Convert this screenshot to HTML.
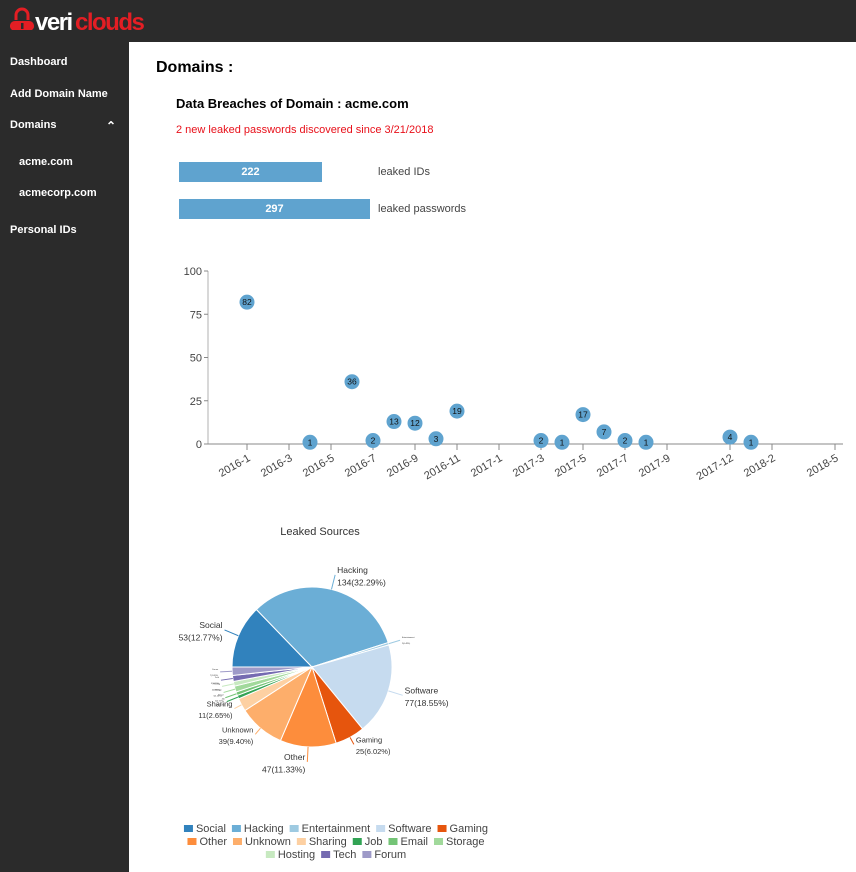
<!DOCTYPE html>
<html><head><meta charset="utf-8"><style>
body{margin:0;width:856px;height:872px;overflow:hidden;font-family:"Liberation Sans",sans-serif;background:#fff;position:relative}
#top{position:absolute;left:0;top:0;width:856px;height:42px;background:#2b2b2b}
#side{position:absolute;left:0;top:42px;width:129px;height:830px;background:#2b2b2b}
.nav{position:absolute;color:#fff;font-size:11px;font-weight:bold}
.abs{position:absolute}
</style></head><body>
<div id="top">
 <svg class="abs" style="left:10px;top:4px" width="150" height="32">
  <path d="M6 16 V11 a6 6 0 0 1 12 0 V16" stroke="#e31e24" stroke-width="3" fill="none"/>
  <path d="M2 26 a5 5 0 0 1 3-9 h14 a5 5 0 0 1 3 9 z" fill="#e31e24"/>
  <rect x="11" y="19" width="2.5" height="6" fill="#2b2b2b"/>
  <text x="25" y="26" font-size="24" font-weight="bold" fill="#fff" letter-spacing="-1.5">veri</text>
  <text x="65" y="26" font-size="24" font-weight="bold" fill="#e31e24" letter-spacing="-1.5">clouds</text>
 </svg>
</div>
<div id="side"></div>
<div class="nav" style="left:10px;top:56px">Dashboard</div>
<div class="nav" style="left:10px;top:88px">Add Domain Name</div>
<div class="nav" style="left:10px;top:119px">Domains</div>
<div class="nav" style="left:106px;top:119px;font-size:12px">&#8963;</div>
<div class="nav" style="left:19px;top:156px">acme.com</div>
<div class="nav" style="left:19px;top:187px">acmecorp.com</div>
<div class="nav" style="left:10px;top:224px">Personal IDs</div>

<div class="abs" style="left:156px;top:59px;font-size:16px;font-weight:bold">Domains :</div>
<div class="abs" style="left:176px;top:96px;font-size:13px;font-weight:bold">Data Breaches of Domain : acme.com</div>
<div class="abs" style="left:176px;top:124px;font-size:11px;color:#e8101a">2 new leaked passwords discovered since 3/21/2018</div>
<div class="abs" style="left:179px;top:162px;width:143px;height:20px;background:#5fa3cf;color:#fff;font-size:11px;font-weight:bold;text-align:center;line-height:20px">222</div>
<div class="abs" style="left:378px;top:166px;font-size:11px;color:#444">leaked IDs</div>
<div class="abs" style="left:179px;top:199px;width:191px;height:20px;background:#5fa3cf;color:#fff;font-size:11px;font-weight:bold;text-align:center;line-height:20px">297</div>
<div class="abs" style="left:378px;top:203px;font-size:11px;color:#444">leaked passwords</div>

<svg id="sc" class="abs" style="left:0;top:0" width="856" height="872"></svg>

<script>
// scatter data (month index from 2016-1)
const months=[0,3,5,6,7,8,9,10,14,15,16,17,18,19,23,24];
const counts=[82,1,36,2,13,12,3,19,2,1,17,7,2,1,4,1];
const yTicks=[0,25,50,75,100];
const xTickMonths=[0,2,4,6,8,10,12,14,16,18,20,23,25,28];
const xTickLabels=["2016-1","2016-3","2016-5","2016-7","2016-9","2016-11","2017-1","2017-3","2017-5","2017-7","2017-9","2017-12","2018-2","2018-5"];
// pie data
const pieCats=["Social","Hacking","Entertainment","Software","Gaming","Other","Unknown","Sharing","Job","Email","Storage","Hosting","Tech","Forum"];
const pieVals=[53,134,2,77,25,47,39,11,3,3,5,4,5,7];
const pieColors=["#3182bd","#6baed6","#9ecae1","#c6dbef","#e6550d","#fd8d3c","#fdae6b","#fdd0a2","#31a354","#74c476","#a1d99b","#c7e9c0","#756bb1","#9e9ac8"];

const NS="http://www.w3.org/2000/svg";
const svg=document.getElementById('sc');
function mk(t,a,p){const e=document.createElementNS(NS,t);for(const k in a)e.setAttribute(k,a[k]);(p||svg).appendChild(e);return e;}
const xS=m=>247+21*m, yS=v=>444-1.73*v;
let e=mk('line',{x1:208,x2:208,y1:271,y2:444,stroke:'#ccc','stroke-width':1.5});


e=mk('line',{x1:208,x2:843,y1:444,y2:444,stroke:'#888','stroke-width':1});


yTicks.forEach(v=>{
 mk('line',{x1:204,x2:208,y1:yS(v),y2:yS(v),stroke:'#888'});
 const t=mk('text',{x:202,y:yS(v)+4,'text-anchor':'end','font-size':11,fill:'#444'});t.textContent=v;
 
 
});
xTickMonths.forEach((m,i)=>{
 mk('line',{x1:xS(m),x2:xS(m),y1:444,y2:450,stroke:'#888'});
 const t=mk('text',{x:xS(m)+4,y:460,'text-anchor':'end','font-size':11,fill:'#444',transform:`rotate(-30 ${xS(m)+4} 460)`});
 t.textContent=xTickLabels[i];
 
 
});
months.forEach((m,i)=>{
 const g=mk('g',{});
 
 
 mk('circle',{cx:xS(m),cy:yS(counts[i]),r:7.5,fill:'#5fa3cf'},g);
 const t=mk('text',{x:xS(m),y:yS(counts[i])+3,'text-anchor':'middle','font-size':8.5,fill:'#111'},g);t.textContent=counts[i];
});
// pie
let t=mk('text',{x:320,y:535,'text-anchor':'middle','font-size':11,fill:'#333'});t.textContent="Leaked Sources";


const cx=312,cy=667,R=80,total=pieVals.reduce((a,b)=>a+b,0);
let ang=-Math.PI/2;
const labeled={Social:1,Hacking:1,Software:1,Gaming:1,Other:1,Unknown:1,Sharing:1};
pieVals.forEach((v,i)=>{
 const a0=ang,a1=ang+v/total*2*Math.PI;ang=a1;
 const p=(a)=>[cx+R*Math.sin(a),cy-R*Math.cos(a)];
 const [x0,y0]=p(a0),[x1,y1]=p(a1);
 const s=mk('path',{d:`M${cx},${cy}L${x0},${y0}A${R},${R} 0 ${a1-a0>Math.PI?1:0} 1 ${x1},${y1}Z`,fill:pieColors[i],stroke:'#fff','stroke-width':1});
 
 
 const am=(a0+a1)/2,sx=Math.sin(am),sy=-Math.cos(am);
 const big=v>40;
 const lr=labeled[pieCats[i]]?(big?R+15:R+8):R+12;
 const lx=cx+lr*sx,ly=cy+lr*sy;
 mk('line',{x1:cx+R*sx,y1:cy+R*sy,x2:lx,y2:ly,stroke:pieColors[i],'stroke-width':1});
 const anchor=sx>0?'start':'end';
 const fs=labeled[pieCats[i]]?(big?8.5:7.5):2;
 const tx=lx+(sx>0?2:-2);
 const l1=mk('text',{x:tx,y:ly-2,'text-anchor':anchor,'font-size':fs,fill:'#333'});l1.textContent=pieCats[i];
 
 
 const l2=mk('text',{x:tx,y:ly+fs+2,'text-anchor':anchor,'font-size':fs,fill:'#333'});l2.textContent=v+"("+(v/415*100).toFixed(2)+"%)";
 
 
});
// legend
const rows=[[0,5],[5,11],[11,14]],rowY=[828,841,854];
const cw=document.createElement('canvas').getContext('2d');cw.font='11px "Liberation Sans"';
rows.forEach(([s,eIdx],r)=>{
 let w=0;for(let i=s;i<eIdx;i++)w+=12+cw.measureText(pieCats[i]).width+6;
 let x=339-w/2;
 for(let i=s;i<eIdx;i++){
  const g=mk('g',{});
  
  
  mk('rect',{x:x,y:rowY[r]-3,width:9,height:7,fill:pieColors[i]},g);
  const tt=mk('text',{x:x+12,y:rowY[r]+4,'font-size':11,fill:'#444'},g);tt.textContent=pieCats[i];
  x+=12+cw.measureText(pieCats[i]).width+6;
 }
});
</script>
</body></html>
